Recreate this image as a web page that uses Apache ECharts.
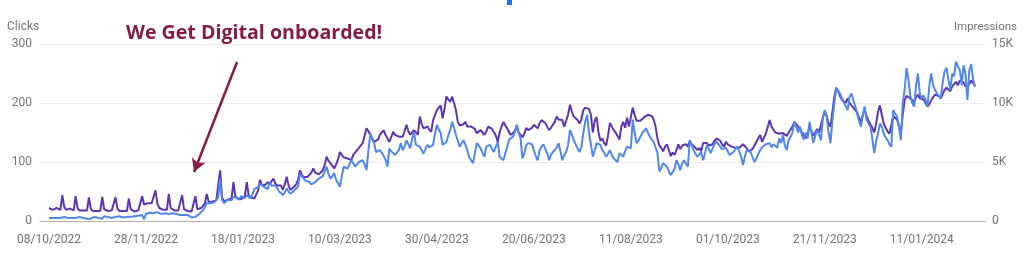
<!DOCTYPE html>
<html>
<head>
<meta charset="utf-8">
<script src="https://cdn.jsdelivr.net/npm/echarts@6/dist/echarts.min.js"></script>
<style>
  html, body { margin: 0; padding: 0; background: #ffffff; }
  #chart { width: 1024px; height: 268px; }
</style>
</head>
<body>
<div id="chart"></div>
<script>
// Daily clicks (left axis), 08/10/2022 onwards, one value per day
const clicks = [
  5,4,5,6,5,4,5, 6,7,6,5,4,5,6, 5,6,7,6,5,5,4, 5,4,6,7,6,5,3,
  4,8,9,7,6,5,6, 7,6,8,7,6,5,7, 8,7,9,8,10,9,8, 10,3,12,13,14,12,13,
  14,15,13,12,14,13,11, 12,10,13,14,12,11,10, 11,10,9,10,8,6,3, 7,10,12,15,18,24,30,
  28,30,27,32,35,40,72, 36,30,33,36,38,35,41, 38,40,36,42,40,39,44, 42,38,45,54,52,58,63,
  60,58,56,54,66,60,58, 60,56,50,52,44,48,55, 50,46,48,52,55,58,80, 76,72,68,70,66,62,64,
  66,68,72,69,76,84,92, 80,72,76,81,70,64,58, 76,92,89,89,96,103,98, 92,95,100,98,103,96,86,
  120,149,138,132,117,118,120, 116,114,104,92,123,118,117, 112,112,120,132,120,126,137, 130,123,140,149,129,128,126,
  120,114,122,129,125,123,129, 148,163,155,149,129,132,134, 145,154,168,158,146,136,126, 132,137,129,120,108,103,98,
  115,132,128,123,115,109,126, 128,129,122,117,126,134,109, 106,103,115,126,138,140,143, 150,163,150,140,106,115,128,
  132,132,130,132,110,103,120, 126,130,132,115,103,112,117, 115,124,132,118,103,112,117, 129,154,146,137,130,123,117,
  125,149,168,180,150,130,109, 120,132,130,129,120,116,109, 114,120,112,106,103,100,115, 112,109,118,126,124,123,172,
  150,132,136,137,149,152,157, 150,143,138,134,125,115,84, 90,98,95,92,84,78,75, 88,103,96,86,98,103,97,
  92,137,128,120,114,109,113, 117,103,115,129,122,115,123, 130,135,137,126,122,120,124, 126,112,115,117,122,126,118,
  109,95,110,120,118,117,108, 100,106,109,120,125,123,130, 128,132,125,130,128,124,140, 132,146,128,120,138,142,150,
  168,165,150,160,145,138,150, 140,168,150,132,145,154,146, 137,175,188,177,150,132,170, 200,225,222,216,208,205,195,
  188,210,216,205,195,182,170, 160,180,194,171,165,160,140, 115,135,148,165,160,148,142, 137,130,126,188,182,177,160,
  137,200,222,259,240,211,200, 194,230,250,215,208,213,205, 194,230,250,230,222,216,212, 208,235,253,260,240,222,250,
  245,270,262,256,230,264,250, 205,255,266,240,227
];

// Daily impressions (right axis), same days
const impressions = [
  1100,1050,950,1050,1100,1000,950, 2200,1200,950,1000,1050,950,900, 2100,1100,900,850,900,950,900, 2000,1050,850,900,850,900,850,
  2050,1000,900,850,950,900,850, 2000,1050,850,900,850,800,850, 1900,1000,850,800,850,900,850, 2100,1400,1450,1500,1450,1500,1400,
  2600,1500,1100,1000,950,1000,950, 2300,1100,950,900,850,900,850, 2200,1000,900,850,900,800,750, 2100,1000,950,1100,1200,1500,2300,
  1600,1700,1650,1800,1750,1900,4300, 2000,1650,1700,1800,1750,1900,3300, 2100,1900,2000,1850,1950,2100,3300, 2200,2000,2100,1900,2250,2600,3500,
  3000,2900,3100,3300,3100,3200,3600, 3200,3000,3100,3000,2650,3100,3750, 3000,2650,2800,2900,3100,3500,4300, 3900,3700,3600,3750,3900,4100,4450,
  4100,4000,3950,3900,4300,4750,5450, 5100,4900,4800,4450,4800,5200,5850, 5600,5400,5300,5300,5200,5150,5600, 5800,6000,6200,6400,6600,7250,7850,
  7600,7450,7000,6700,6600,6900,7300, 7500,7700,7300,7000,6700,7100,7550, 7300,7150,7150,7000,7150,7600,8150, 7600,7300,7500,7700,7500,7300,8850,
  8200,7850,7900,8000,7750,7550,8550, 9000,9400,9600,9800,8700,9500,10550, 10300,10100,10550,10000,9400,8400,8100, 8000,8200,8400,8000,7850,8000,8150,
  7800,7450,7600,7700,7500,7300,7600, 8000,7900,7800,7700,7250,6700,7500, 8000,8400,8100,7850,7500,7300,7150, 7600,8000,7500,7300,7100,7400,7900,
  7700,7550,7900,8150,8000,7850,8250, 8550,8400,8300,8000,7700,7900,8000, 8400,8850,8600,8550,8550,8000,7850, 9000,9850,9250,8850,8700,8550,8250,
  8600,9400,9600,9700,9500,9000,7500, 8500,8800,7500,6800,7000,6600,6400, 7250,8300,8000,7700,7500,7600,6900, 8000,8400,7900,8750,8000,7900,9600,
  9000,8500,8400,8500,8600,8800,8900, 9000,9100,8900,8600,8000,7000,6400, 6200,5900,6300,6500,6000,5500,5800, 5600,6000,6500,6100,6400,6300,6500,
  6300,6800,6500,6400,6200,6000,6200, 5900,6600,6500,6600,6400,6250,6500, 6800,7000,6850,6800,6500,6300,6700, 6500,6400,6300,6450,6200,6050,6200,
  6300,6500,6350,6150,5900,6000,6100, 6400,6700,6600,7300,6700,6800,7400, 7500,8550,8000,7900,7500,7600,7400, 7500,7450,7300,7200,7500,7750,8000,
  8400,8300,8000,7750,7500,7300,7000, 7400,8000,7600,7250,7500,7800,7500, 7400,8800,9250,8900,8250,8000,9250, 10500,11300,11000,10600,10300,10200,10000,
  10400,10000,9800,9600,9400,9200,8750, 8400,9000,9400,8900,8500,8200,7900, 7500,8250,9250,9800,9000,8250,7900, 7600,7400,7250,8900,8800,8600,8000,
  7500,9000,10250,10600,10750,10400,10250, 10100,10500,10700,10400,10250,10300,10000, 9700,9900,10250,10500,10700,10800,10600, 10400,10750,11100,11300,11200,11000,11400,
  11600,11800,11500,11900,12000,11750,11400, 11250,11600,11900,11750,11500
];

// X tick labels and the day index (from 08/10/2022) they sit at
const xTickLabels = ['08/10/2022','28/11/2022','18/01/2023','10/03/2023','30/04/2023','20/06/2023','11/08/2023','01/10/2023','21/11/2023','11/01/2024'];
const xTickIndex = [0, 51, 102, 153, 204, 255, 306, 357, 408, 459];

const clickTicks = [0, 100, 200, 300];
const impressionTicks = [0, 5000, 10000, 15000];

// Annotation: arrow from (day, clicks) to (day, clicks)
const annotationText = 'We Get Digital onboarded!';
const arrowFrom = [98.9, 269.5];
const arrowTo = [76.3, 83];

const chart = echarts.init(document.getElementById('chart'), null, { renderer: 'canvas' });

const gray = '#70757a';
const maroon = '#861c43';

const option = {
  animation: false,
  backgroundColor: '#ffffff',
  textStyle: { fontFamily: 'Roboto, sans-serif' },
  title: {
    text: annotationText,
    left: 126,
    top: 23,
    padding: 0,
    textStyle: { fontFamily: '"Open Sans", sans-serif', fontWeight: 'bold', fontSize: 19.6, color: maroon }
  },
  grid: { left: 40, right: 39, top: 44, bottom: 47, containLabel: false },
  xAxis: {
    type: 'value',
    min: -4.73,
    max: 492.26,
    splitLine: { show: false },
    axisTick: { show: false },
    axisLine: { show: true, lineStyle: { color: '#b0b0b0', width: 1 } },
    axisLabel: {
      customValues: xTickIndex,
      color: gray,
      fontSize: 12,
      margin: 13,
      formatter: function (v) {
        const k = xTickIndex.indexOf(Math.round(v));
        return k >= 0 ? xTickLabels[k] : '';
      }
    }
  },
  yAxis: [
    {
      type: 'value',
      min: clickTicks[0],
      max: clickTicks[clickTicks.length - 1],
      interval: 100,
      axisLine: { show: false },
      axisTick: { show: false },
      axisLabel: { color: gray, fontSize: 12, margin: 8 },
      splitLine: { show: true, lineStyle: { color: '#ececec', width: 1 } }
    },
    {
      type: 'value',
      min: impressionTicks[0],
      max: impressionTicks[impressionTicks.length - 1],
      interval: 5000,
      axisLine: { show: false },
      axisTick: { show: false },
      axisLabel: {
        color: gray, fontSize: 12, margin: 7,
        formatter: function (v) { return v === 0 ? '0' : (v / 1000) + 'K'; }
      },
      splitLine: { show: false }
    }
  ],
  series: [
    {
      name: 'Impressions',
      type: 'line',
      yAxisIndex: 1,
      showSymbol: false,
      symbol: 'none',
      lineStyle: { color: '#5e35b1', width: 2 },
      data: impressions.map(function (v, i) { return [i, v]; }),
      z: 2
    },
    {
      name: 'Clicks',
      type: 'line',
      yAxisIndex: 0,
      showSymbol: false,
      symbol: 'none',
      lineStyle: { color: '#4f87ec', width: 2 },
      data: clicks.map(function (v, i) { return [i, v]; }),
      z: 3,
      markLine: {
        silent: true,
        symbol: ['none', 'arrow'],
        symbolSize: [11, 13],
        label: { show: false },
        lineStyle: { color: maroon, width: 2.5, type: 'solid' },
        emphasis: { disabled: true },
        data: [[{ coord: arrowFrom }, { coord: arrowTo }]]
      }
    }
  ],
  graphic: [
    { type: 'text', left: 7, top: 21, silent: true,
      style: { text: 'Clicks', fill: gray, font: '12px Roboto, sans-serif' } },
    { type: 'text', right: 7, top: 21, silent: true,
      style: { text: 'Impressions', fill: gray, font: '11.5px Roboto, sans-serif' } },
    { type: 'rect', left: 507, top: 0, shape: { width: 5, height: 5 }, style: { fill: '#1a73e8' }, silent: true }
  ]
};

chart.setOption(option);
</script>
</body>
</html>
